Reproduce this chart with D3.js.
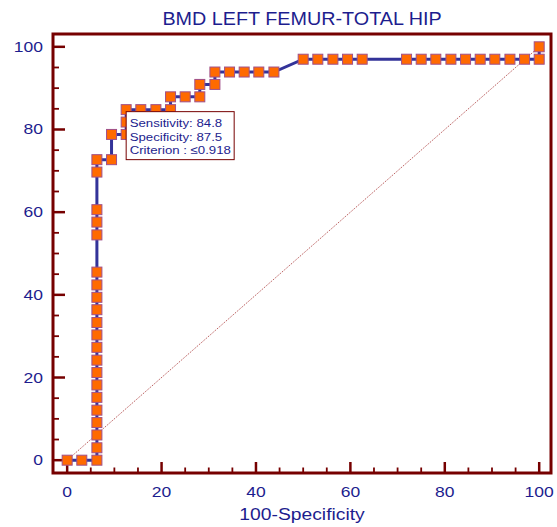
<!DOCTYPE html>
<html>
<head>
<meta charset="utf-8">
<script src="https://cdn.jsdelivr.net/npm/d3@7"></script>
<style>
  html, body { margin: 0; padding: 0; background: #fff; }
  svg { display: block; font-family: "Liberation Sans", Arial, sans-serif; }
</style>
</head>
<body>
<svg id="chart" width="557" height="527"></svg>
<script>
// ROC curve points: 100-Specificity (x) and Sensitivity (y), in order along the curve
const fprValues = [
  0, 3.1, 6.3, 6.3, 6.3, 6.3, 6.3, 6.3, 6.3, 6.3, 6.3, 6.3, 6.3, 6.3, 6.3, 6.3, 6.3, 6.3,
  6.3, 6.3, 6.3, 6.3, 6.3, 9.4, 9.4, 12.5, 12.5, 12.5, 15.6, 18.8, 21.9, 21.9, 25, 28.1,
  28.1, 31.3, 31.3, 34.4, 37.5, 40.6, 43.8, 50, 53.1, 56.3, 59.4, 62.5, 71.9, 75, 78.1,
  81.3, 84.4, 87.5, 90.6, 93.8, 96.9, 100, 100
];
const sensValues = [
  0, 0, 0, 3.0, 6.1, 9.1, 12.1, 15.2, 18.2, 21.2, 24.2, 27.3, 30.3, 33.3, 36.4, 39.4, 42.4, 45.5,
  54.5, 57.6, 60.6, 69.7, 72.7, 72.7, 78.8, 78.8, 81.8, 84.8, 84.8, 84.8, 84.8, 87.9, 87.9, 87.9,
  90.9, 90.9, 93.9, 93.9, 93.9, 93.9, 93.9, 97.0, 97.0, 97.0, 97.0, 97.0, 97.0, 97.0, 97.0,
  97.0, 97.0, 97.0, 97.0, 97.0, 97.0, 97.0, 100
];

// Optimal cut-off point
const criterionPoint = { fpr: 12.5, sens: 84.8 };
const criterionLines = ["Sensitivity: 84.8", "Specificity: 87.5", "Criterion : \u22640.918"];

const titleText = "BMD LEFT FEMUR-TOTAL HIP";
const xAxisTitle = "100-Specificity";
const xTickLabels = [0, 20, 40, 60, 80, 100];
const yTickLabels = [0, 20, 40, 60, 80, 100];

const navy = "#1d1d8e";
const maroon = "#760000";

const svg = d3.select("#chart");
const frame = { left: 53, top: 34, right: 551, bottom: 473 };

const x = d3.scaleLinear().domain([-3, 102.5]).range([frame.left, frame.right]);
const y = d3.scaleLinear().domain([-3.1, 103.1]).range([frame.bottom, frame.top]);

// Text drawn with a slightly widened face
function wideText(parent, tx, ty, str, size, sx, anchor) {
  return parent.append("text")
    .attr("transform", `translate(${tx},${ty}) scale(${sx},1)`)
    .attr("text-anchor", anchor || "start")
    .attr("fill", navy)
    .attr("font-size", size)
    .text(str);
}

// Title
wideText(svg, 302, 25, titleText, 17.5, 1.13, "middle");

// Reference diagonal
svg.append("line")
  .attr("x1", x(0)).attr("y1", y(0))
  .attr("x2", x(100)).attr("y2", y(100))
  .attr("stroke", "#a02020")
  .attr("stroke-width", 0.8)
  .attr("stroke-dasharray", "1.2,1.2");

// Ticks: inward-pointing, minor every 5, major every 20
const tickVals = d3.range(0, 101, 5);
const g = svg.append("g");
tickVals.forEach(v => {
  const major = v % 20 === 0;
  g.append("line")
    .attr("x1", x(v)).attr("x2", x(v))
    .attr("y1", frame.bottom).attr("y2", frame.bottom - (major ? 11 : 5.5))
    .attr("stroke", maroon).attr("stroke-width", major ? 2.5 : 1.8);
  g.append("line")
    .attr("y1", y(v)).attr("y2", y(v))
    .attr("x1", frame.left).attr("x2", frame.left + (major ? 12 : 6))
    .attr("stroke", maroon).attr("stroke-width", major ? 2.5 : 1.8);
});

// Frame
svg.append("rect")
  .attr("x", frame.left).attr("y", frame.top)
  .attr("width", frame.right - frame.left)
  .attr("height", frame.bottom - frame.top)
  .attr("fill", "none")
  .attr("stroke", maroon)
  .attr("stroke-width", 3);

// Tick labels
const xl = svg.append("g");
xTickLabels.forEach(d => wideText(xl, x(d), 496.5, d, 14, 1.25, "middle"));
const yl = svg.append("g");
yTickLabels.forEach(d => wideText(yl, 43, y(d) + 5, d, 14, 1.25, "end"));

// Axis title
wideText(svg, 302, 520, xAxisTitle, 16.5, 1.17, "middle");

// ROC curve
const pts = fprValues.map((f, i) => [f, sensValues[i]]);
svg.append("path")
  .datum(pts)
  .attr("d", d3.line().x(d => x(d[0])).y(d => y(d[1])))
  .attr("fill", "none")
  .attr("stroke", "#333399")
  .attr("stroke-width", 3);

// Markers
const ms = 10;
svg.append("g").selectAll("rect")
  .data(pts).join("rect")
  .attr("x", d => x(d[0]) - ms / 2)
  .attr("y", d => y(d[1]) - ms / 2)
  .attr("width", ms).attr("height", ms)
  .attr("fill", "#ff6a00")
  .attr("stroke", "#a0508a")
  .attr("stroke-width", 1);

// Criterion label box
const bx = x(criterionPoint.fpr), by = y(criterionPoint.sens);
const box = svg.append("g").attr("transform", `translate(${bx},${by})`);
box.append("rect")
  .attr("x", 0).attr("y", 2)
  .attr("width", 108).attr("height", 48)
  .attr("fill", "#fff")
  .attr("stroke", maroon).attr("stroke-width", 1);
criterionLines.forEach((d, i) => wideText(box, 3.5, 17.5 + i * 13.5, d, 11.5, 1.15, "start"));
</script>
</body>
</html>
